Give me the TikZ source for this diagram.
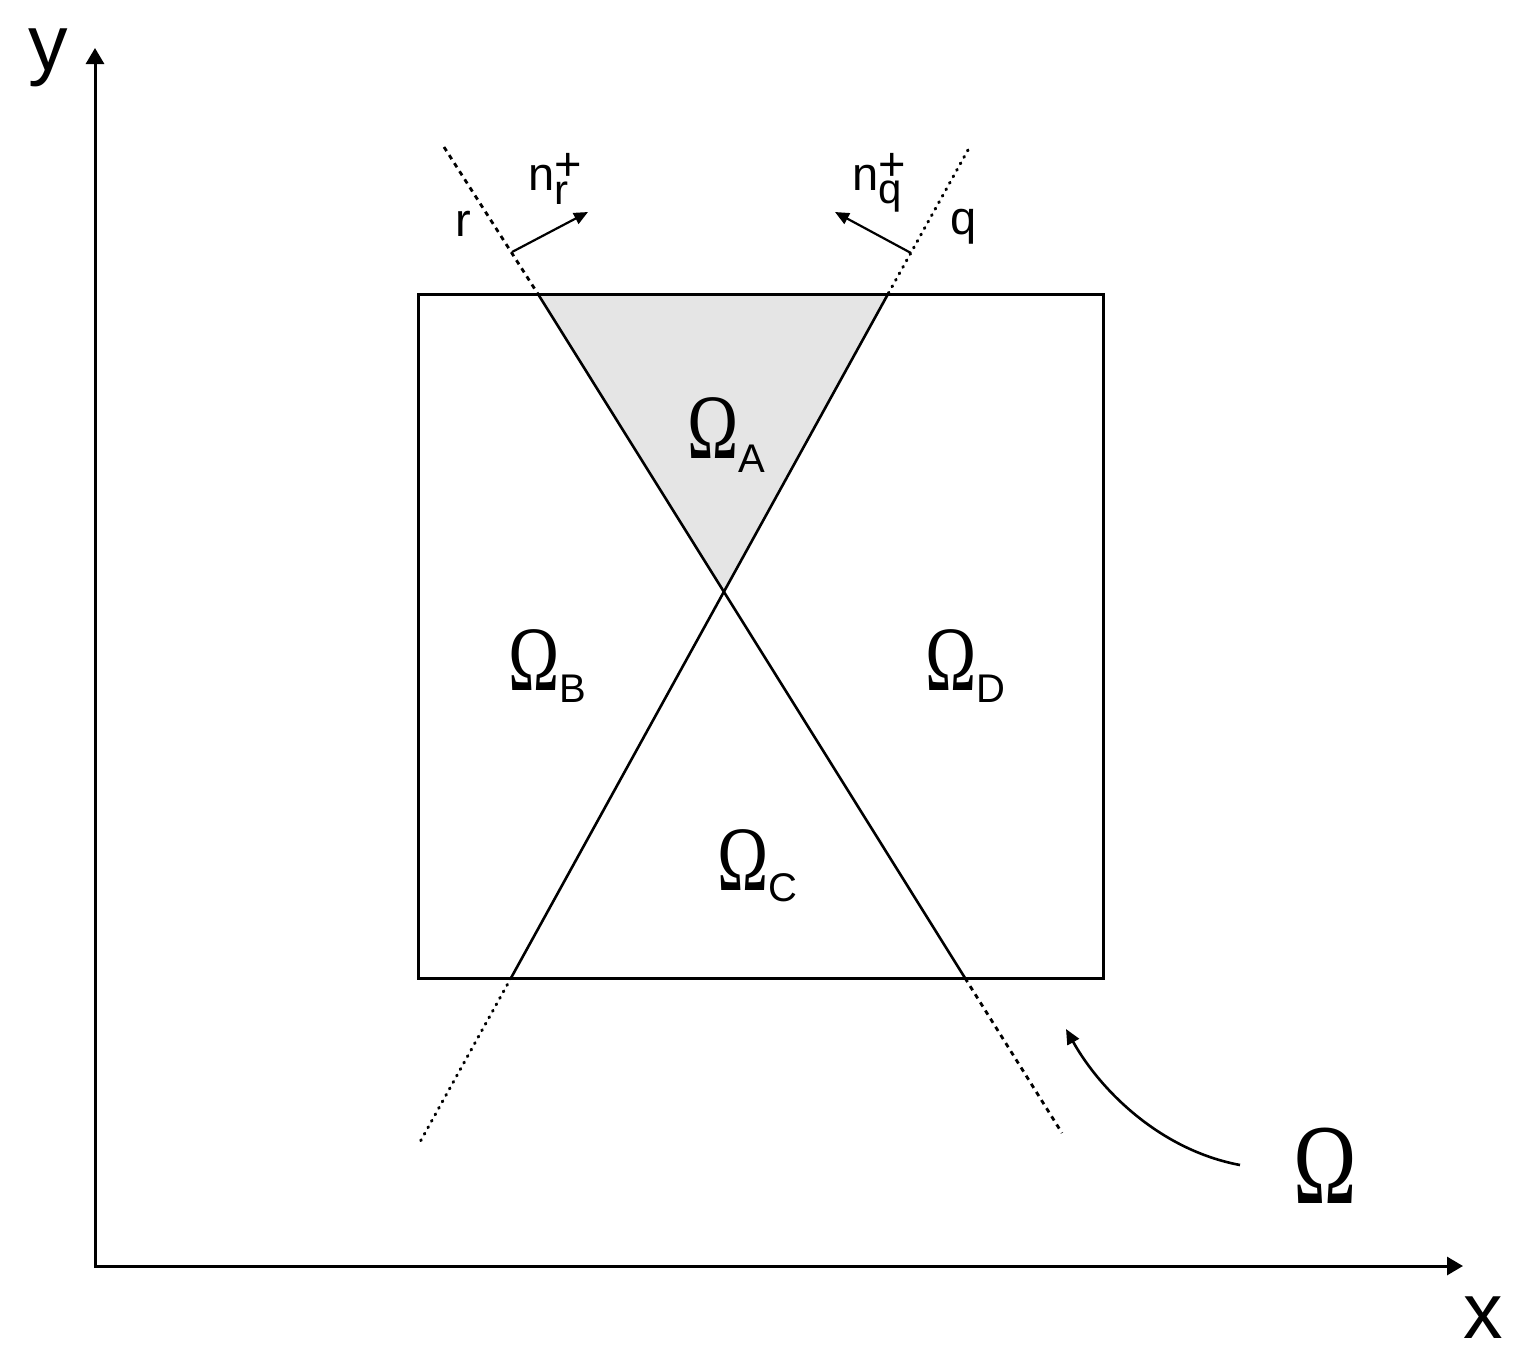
\documentclass[tikz,border=0pt]{standalone}
\usepackage{fontspec}
\setmainfont{Liberation Sans}
\newfontfamily\omegafont{Liberation Serif}
\usetikzlibrary{arrows.meta}
\begin{document}
\begin{tikzpicture}[x=0.5pt,y=-0.5pt,
  axis/.style={line width=1.5pt,{Triangle[length=8pt,width=9pt]}-{Triangle[length=8pt,width=9pt]}},
  border/.style={line width=1.5pt},
  cut/.style={line width=1.3pt},
  dashext/.style={line width=1.4pt, dash pattern=on 2.4pt off 2.4pt},
  dotext/.style={line width=1.5pt, line cap=round, dash pattern=on 0.5pt off 3.2pt},
  normalvec/.style={line width=1.1pt,-{Triangle[length=7pt,width=6pt]}},
  curvearrow/.style={line width=1.3pt,-{Triangle[length=7.5pt,width=6.5pt]}},
  axlbl/.style={inner sep=0pt, anchor=base west, font=\fontsize{39.5}{40}\selectfont},
  lbl/.style={inner sep=0pt, anchor=base west, font=\fontsize{23.5}{24}\selectfont},
  omlbl/.style={inner sep=0pt, anchor=base west},
  shade/.style={fill=black!10}]
\useasboundingbox (0,0) rectangle (1522,1367);
\newcommand{\subfs}{\fontsize{20}{20}\selectfont}
\newcommand{\idxfs}{\fontsize{21}{21}\selectfont}
\newcommand{\omg}{\scalebox{0.75}[1]{\omegafont\fontsize{46}{46}\selectfont Ω}}
% coordinates
\coordinate (O) at (95,1266);
\coordinate (ytip) at (95,48);
\coordinate (xtip) at (1463,1266);
\coordinate (b1) at (418,294);
\coordinate (b2) at (1103,978);
\coordinate (rT) at (538,294);
\coordinate (rB) at (965,978);
\coordinate (qT) at (888,294);
\coordinate (qB) at (511,978);
\coordinate (X) at (724,592);
\coordinate (rEnd1) at (444,147);
\coordinate (rEnd2) at (1062,1133);
\coordinate (qEnd1) at (968,150);
\coordinate (qEnd2) at (420,1142);
\coordinate (nrS) at (512,252);
\coordinate (nrE) at (588,212);
\coordinate (nqS) at (911,253);
\coordinate (nqE) at (835,212);
\coordinate (cS) at (1240,1165);
\coordinate (cE) at (1066,1029);
% shaded region
\fill[shade] (rT) -- (qT) -- (X) -- cycle;
% axes
\draw[axis] (ytip) -- (O) -- (xtip);
\node[axlbl] (ylab) at (28,70) {y};
\node[axlbl] (xlab) at (1463,1338) {x};
% box
\draw[border] (b1) rectangle (b2);
% cutting lines
\draw[cut] (rT) -- (rB);
\draw[cut] (qT) -- (qB);
\draw[dashext] (rEnd1) -- (rT);
\draw[dashext] (rB) -- (rEnd2);
\draw[dotext] (qEnd1) -- (qT);
\draw[dotext] (qB) -- (qEnd2);
% normals
\draw[normalvec] (nrS) -- (nrE);
\draw[normalvec] (nqS) -- (nqE);
\node[lbl] (nr) at (528,190) {n\rlap{\raisebox{5pt}{+}}\raisebox{-7pt}{\idxfs r}};
\node[lbl] (nq) at (852,190) {n\rlap{\raisebox{5pt}{+}}\raisebox{-6.5pt}{\idxfs q}};
\node[lbl] (rlab) at (455,236) {r};
\node[lbl] (qlab) at (950,234) {q};
% region labels
\node[omlbl] (OA) at (687,458) {\omg\raisebox{-7pt}{\subfs A}};
\node[omlbl] (OB) at (508,690) {\omg\raisebox{-6pt}{\subfs B}};
\node[omlbl] (OD) at (925,690) {\omg\raisebox{-6pt}{\subfs D}};
\node[omlbl] (OC) at (717,890) {\omg\raisebox{-5.5pt}{\subfs C}};
\node[omlbl] (Om) at (1293,1203) {\scalebox{0.75}[1]{\omegafont\fontsize{57}{57}\selectfont Ω}};
% curved arrow
\draw[curvearrow] (cS) .. controls (1160,1150) and (1100,1090) .. (cE);
\end{tikzpicture}
\end{document}
